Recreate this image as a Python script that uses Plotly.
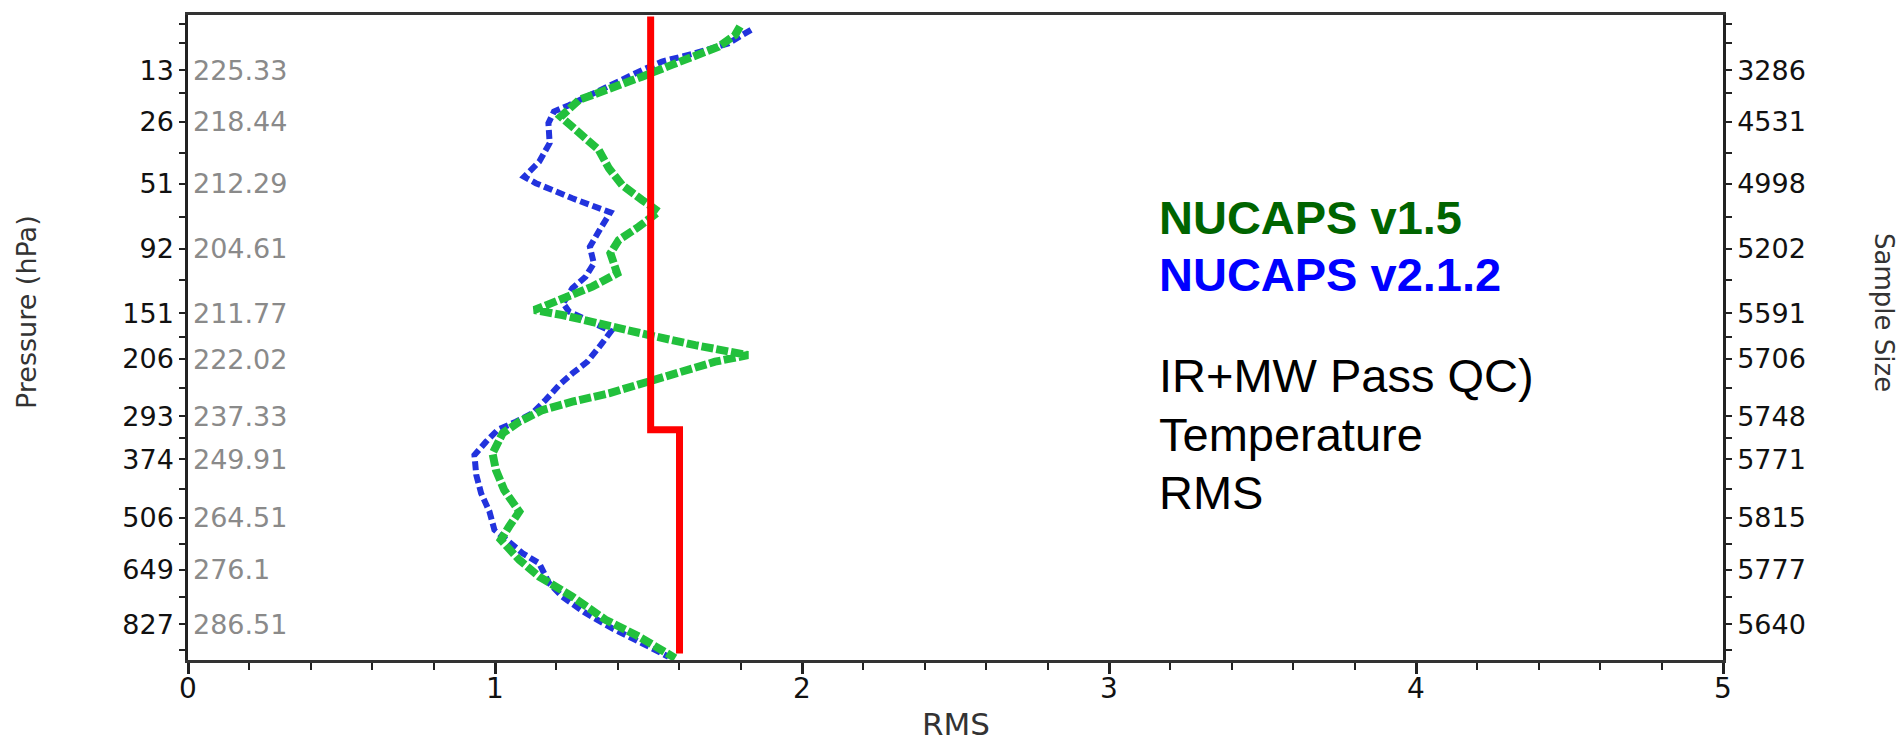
import plotly.graph_objects as go

# ---------------- data ----------------
pressure_levels = [13, 26, 51, 92, 151, 206, 293, 374, 506, 649, 827]
mean_temperature = ["225.33", "218.44", "212.29", "204.61", "211.77", "222.02",
                    "237.33", "249.91", "264.51", "276.1", "286.51"]
sample_size = ["3286", "4531", "4998", "5202", "5591", "5706",
               "5748", "5771", "5815", "5777", "5640"]
rms_ticks = [0, 1, 2, 3, 4, 5]

# NUCAPS v2.1.2 (blue)
v212_pressure = [6.7, 8.5, 10.0, 11.4, 13.0, 15.7, 18.9, 21.1, 22.9, 26.4, 33.3, 40.8,
                 47.6, 50.8, 58.8, 67.0, 77.2, 90.4, 103.5, 115, 125.6, 140.4, 149,
                 160, 171, 188, 209.6, 225.9, 243, 266, 288, 302.5, 317, 339, 365,
                 406.6, 447.6, 491, 537, 601, 630, 690, 733, 788, 842, 896, 948]
v212_rms = [1.834, 1.76, 1.652, 1.544, 1.479, 1.392, 1.306, 1.241, 1.192, 1.174, 1.178,
            1.144, 1.095, 1.133, 1.252, 1.376, 1.344, 1.309, 1.322, 1.295, 1.252, 1.222,
            1.241, 1.31, 1.378, 1.344, 1.301, 1.252, 1.209, 1.165, 1.122, 1.068, 1.009,
            0.971, 0.933, 0.939, 0.955, 0.982, 0.998, 1.090, 1.144, 1.176, 1.219,
            1.295, 1.382, 1.479, 1.565]

# NUCAPS v1.5 (green)
v15_pressure = [6.3, 7.35, 9.0, 10.6, 12.0, 14.3, 16.9, 19.7, 24.4, 30.3, 35.9, 43.7,
                51.7, 59.7, 66.6, 76.2, 85.4, 95.4, 112, 124, 133.7, 147.4, 152.7,
                163.8, 175.6, 188, 194, 200.7, 209.6, 223.4, 243, 255.7, 268.9, 282.6,
                302.5, 323.4, 361.7, 395.9, 439.9, 491, 528.6, 564, 620, 670, 733,
                811, 871, 953]
v15_rms = [1.798, 1.782, 1.728, 1.652, 1.576, 1.479, 1.371, 1.274, 1.214, 1.284, 1.338,
           1.371, 1.414, 1.479, 1.533, 1.468, 1.403, 1.376, 1.398, 1.317, 1.241, 1.128,
           1.219, 1.349, 1.501, 1.652, 1.738, 1.824, 1.717, 1.609, 1.479, 1.371, 1.252,
           1.155, 1.079, 1.025, 0.992, 1.003, 1.030, 1.079, 1.046, 1.019, 1.079, 1.144,
           1.252, 1.360, 1.468, 1.587]

# requirement line (red)
req_pressure = [5.2, 317, 317, 935]
req_rms = [1.507, 1.507, 1.601, 1.601]

minor_pressure = [6, 8.5, 18, 37, 70, 118, 178, 248, 333, 437, 575, 735, 920]

EXP = 0.3  # vertical coordinate is pressure ** 0.3


def yt(vals):
    return [v ** EXP for v in vals]


# ---------------- layout geometry ----------------
W, H = 1898, 741
ML, MR, MT, MB = 188, 175, 15, 81
PW, PH = W - ML - MR, H - MT - MB
Y_TOP, Y_BOT = 1.6265, 7.848


def px_x(px):
    return (px - ML) / PW


def px_y(py):
    return 1 - (py - MT) / PH


AXFONT = "DejaVu Sans"
TXTFONT = "Liberation Sans, Arial"

fig = go.Figure()
fig.add_trace(go.Scatter(
    x=v212_rms, y=yt(v212_pressure), mode="lines", name="NUCAPS v2.1.2",
    line=dict(color="#2233DD", width=6, dash="9px,4px"), showlegend=False))
fig.add_trace(go.Scatter(
    x=v15_rms, y=yt(v15_pressure), mode="lines", name="NUCAPS v1.5",
    line=dict(color="#22C03C", width=8, dash="12px,3px"), showlegend=False))
fig.add_trace(go.Scatter(
    x=req_rms, y=yt(req_pressure), mode="lines", name="requirement",
    line=dict(color="#FF0000", width=7), showlegend=False))
fig.add_trace(go.Scatter(x=[None], y=[None], yaxis="y2", showlegend=False,
                         hoverinfo="skip"))

annotations = []
for p, t in zip(pressure_levels, mean_temperature):
    annotations.append(dict(
        x=0, xref="paper", xanchor="left", xshift=3, y=p ** EXP, yref="y",
        yanchor="middle", text=t, showarrow=False,
        font=dict(family=AXFONT, size=27, color="#8a8a8a")))

# x tick labels (placed close under the ticks, as in the original)
for v in rms_ticks:
    annotations.append(dict(
        x=v, xref="x", xanchor="center", y=px_y(688), yref="paper",
        yanchor="middle", text=str(v), showarrow=False,
        font=dict(family=AXFONT, size=28, color="#111111")))

annotations += [
    dict(x=0.5, xref="paper", y=px_y(724), yref="paper", text="RMS",
         showarrow=False, yanchor="middle",
         font=dict(family=AXFONT, size=31, color="#333333")),
    dict(x=px_x(26), xref="paper", y=px_y(312), yref="paper", text="Pressure (hPa)",
         showarrow=False, textangle=-90, xanchor="center", yanchor="middle",
         font=dict(family=AXFONT, size=27, color="#333333")),
    dict(x=px_x(1884), xref="paper", y=px_y(312), yref="paper", text="Sample Size",
         showarrow=False, textangle=90, xanchor="center", yanchor="middle",
         font=dict(family=AXFONT, size=26, color="#333333")),
]

text_lines = [
    ("<b>NUCAPS v1.5</b>", "#006400", 217),
    ("<b>NUCAPS v2.1.2</b>", "#0000FF", 274),
    ("IR+MW Pass QC)", "#000000", 376),
    ("Temperature", "#000000", 434),
    ("RMS", "#000000", 492),
]
for txt, col, yc in text_lines:
    annotations.append(dict(
        x=px_x(1157), xref="paper", xanchor="left", y=px_y(yc), yref="paper",
        yanchor="middle", text=txt, showarrow=False,
        font=dict(family=TXTFONT, size=47, color=col)))

yaxis_common = dict(
    range=[Y_BOT, Y_TOP], tickmode="array", tickvals=yt(pressure_levels),
    showline=True, linecolor="#222222", linewidth=2.5, ticks="outside",
    ticklen=6, tickwidth=1.5, tickcolor="#222222", showgrid=False, zeroline=False,
    tickfont=dict(family=AXFONT, size=27, color="#111111"),
    minor=dict(tickmode="array", tickvals=yt(minor_pressure), ticks="outside",
               ticklen=6, tickwidth=1.5, tickcolor="#222222", showgrid=False),
)

fig.update_layout(
    width=W, height=H, autosize=False,
    margin=dict(l=ML, r=MR, t=MT, b=MB, pad=0),
    paper_bgcolor="white", plot_bgcolor="white",
    showlegend=False,
    xaxis=dict(range=[0, 5], tickmode="array", tickvals=rms_ticks,
               showticklabels=False,
               showline=True, mirror=True, linecolor="#333333", linewidth=2.5,
               ticks="outside", ticklen=11, tickwidth=2.5, tickcolor="#222222",
               showgrid=False, zeroline=False,
               minor=dict(dtick=0.2, tick0=0, ticks="outside", ticklen=7,
                          tickwidth=1.5, tickcolor="#222222", showgrid=False)),
    yaxis=dict(ticktext=[str(p) for p in pressure_levels], side="left",
               **yaxis_common),
    yaxis2=dict(ticktext=sample_size, side="right", overlaying="y",
                **yaxis_common),
    annotations=annotations,
)

fig.write_html("out.html", config={"displayModeBar": False},
               post_script="document.body.style.margin='0';")
